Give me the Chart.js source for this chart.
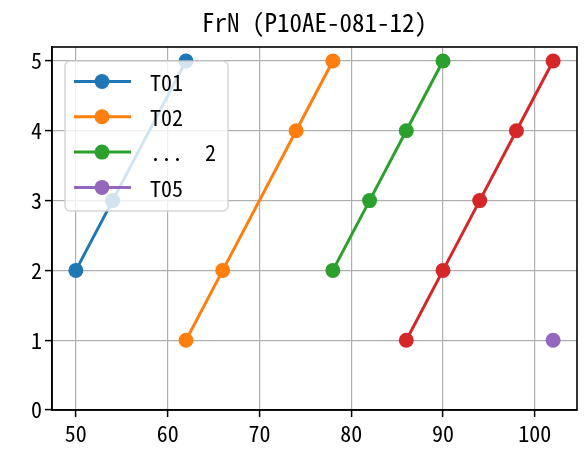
<!DOCTYPE html>
<html>
<head>
<meta charset="utf-8">
<script src="https://cdn.jsdelivr.net/npm/chart.js@4"></script>
<style>
  html, body { margin: 0; padding: 0; background: #fff; }
</style>
</head>
<body>
<canvas id="chart" width="588" height="456"></canvas>
<script>
// Dados do gráfico
const title = 'FrN (P10AE-081-12)';
const labels = ['T01', 'T02', '...  2', 'T04', 'T05'];
const colors = ['#1f77b4', '#ff7f0e', '#2ca02c', '#d62728', '#9467bd'];
const t01X = [50, 54, 62];
const t01Y = [2, 3, 5];
const t02X = [62, 66, 74, 78];
const t02Y = [1, 2, 4, 5];
const t03X = [78, 82, 86, 90];
const t03Y = [2, 3, 4, 5];
const t04X = [86, 90, 94, 98, 102];
const t04Y = [1, 2, 3, 4, 5];
const t05X = [102];
const t05Y = [1];
const legendIdx = [0, 1, 2, 4]; // série vermelha fica fora da legenda
const xTicks = [50, 60, 70, 80, 90, 100];
const yTicks = [0, 1, 2, 3, 4, 5];

const FONT = "'Noto Sans Mono CJK JP', 'Noto Sans CJK JP', monospace";
const xs = [t01X, t02X, t03X, t04X, t05X];
const ys = [t01Y, t02Y, t03Y, t04Y, t05Y];

const datasets = labels.map((label, i) => ({
  label: label,
  data: xs[i].map((x, j) => ({ x: x, y: ys[i][j] })),
  borderColor: colors[i],
  backgroundColor: colors[i],
  borderWidth: 3,
  pointRadius: 7.5,
  pointHoverRadius: 7.5,
  pointBorderWidth: 0,
  pointBackgroundColor: colors[i],
  order: labels.length - i
}));

// Título centralizado sobre a área do gráfico
const titlePlugin = {
  id: 'titlePlugin',
  afterDraw(chart) {
    const { ctx, chartArea } = chart;
    ctx.save();
    ctx.font = '25px ' + FONT;
    ctx.fillStyle = '#000';
    ctx.textAlign = 'center';
    ctx.textBaseline = 'middle';
    ctx.fillText(title, (chartArea.left + chartArea.right) / 2, 22);
    ctx.restore();
  }
};

// Moldura (spines) em volta da área
const framePlugin = {
  id: 'framePlugin',
  afterDatasetsDraw(chart) {
    const { ctx, chartArea: a } = chart;
    ctx.save();
    ctx.strokeStyle = '#000';
    ctx.lineWidth = 1.6;
    ctx.strokeRect(a.left, a.top, a.right - a.left, a.bottom - a.top);
    ctx.restore();
  }
};

// Legenda semi-transparente no canto superior esquerdo
const legendPlugin = {
  id: 'legendPlugin',
  afterDraw(chart) {
    const ctx = chart.ctx;
    const bx = 65, by = 61, bw = 163, bh = 150;
    ctx.save();
    ctx.beginPath();
    ctx.roundRect(bx, by, bw, bh, 5);
    ctx.fillStyle = 'rgba(255,255,255,0.8)';
    ctx.fill();
    ctx.strokeStyle = 'rgba(204,204,204,0.8)';
    ctx.lineWidth = 1.5;
    ctx.stroke();
    legendIdx.forEach((i, k) => {
      const y = 81.5 + k * 35.3;
      ctx.strokeStyle = colors[i];
      ctx.lineWidth = 3;
      ctx.beginPath();
      ctx.moveTo(74, y);
      ctx.lineTo(131, y);
      ctx.stroke();
      ctx.fillStyle = colors[i];
      ctx.beginPath();
      ctx.arc(102, y, 7.5, 0, Math.PI * 2);
      ctx.fill();
      ctx.fillStyle = '#000';
      ctx.font = '22px ' + FONT;
      ctx.textAlign = 'left';
      ctx.textBaseline = 'middle';
      ctx.fillText(labels[i], 150, y + 1);
    });
    ctx.restore();
  }
};

const axisStyle = (ticks) => ({
  type: 'linear',
  afterBuildTicks(scale) {
    scale.ticks = ticks.map((v) => ({ value: v }));
  },
  ticks: {
    color: '#000',
    font: { family: FONT, size: 22 },
    padding: 3
  },
  grid: {
    color: '#b0b0b0',
    lineWidth: 1.2,
    tickColor: '#000',
    tickLength: 7,
    tickWidth: 1.5
  },
  border: { color: '#000', width: 1.6 }
});

new Chart(document.getElementById('chart'), {
  type: 'line',
  data: { datasets: datasets },
  options: {
    responsive: false,
    animation: false,
    layout: { padding: { top: 47, right: 11, left: 0, bottom: 0 } },
    plugins: {
      legend: { display: false },
      title: { display: false },
      tooltip: { enabled: false }
    },
    scales: {
      x: Object.assign(axisStyle(xTicks), {
        min: 47.4,
        max: 104.6,
        afterFit(s) { s.height = 46; }
      }),
      y: Object.assign(axisStyle(yTicks), {
        min: 0,
        max: 5.2,
        afterFit(s) { s.width = 52; }
      })
    }
  },
  plugins: [framePlugin, legendPlugin, titlePlugin]
});
</script>
</body>
</html>
